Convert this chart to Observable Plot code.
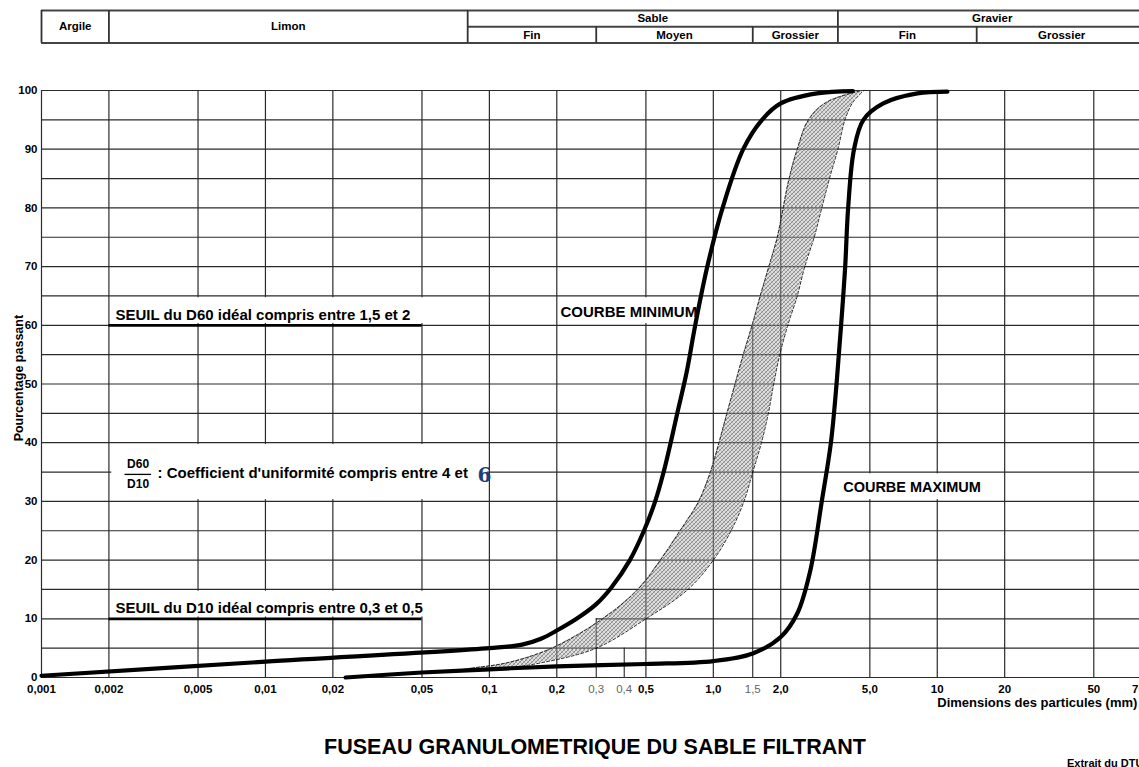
<!DOCTYPE html>
<html>
<head>
<meta charset="utf-8">
<script src="https://cdn.jsdelivr.net/npm/d3@7"></script>
<script src="https://cdn.jsdelivr.net/npm/@observablehq/plot@0.6"></script>
<style>
html, body { margin: 0; padding: 0; background: #fff; overflow: hidden; width: 1139px; height: 767px; }
#page { position: relative; width: 1139px; height: 767px; overflow: hidden; font-family: "Liberation Sans", Arial, Helvetica, sans-serif; }
#header { position: absolute; left: 0; top: 0; }
#chart { position: absolute; left: 0; top: 50px; }
#title { position: absolute; left: 0; width: 1190px; top: 736px; text-align: center; font-weight: bold; font-size: 21.5px; line-height: 22px; white-space: nowrap; }
#source { position: absolute; left: 1067px; top: 757px; font-weight: bold; font-size: 11px; white-space: nowrap; }
</style>
</head>
<body>
<div id="page">
  <div id="header"></div>
  <div id="chart"></div>
  <div id="title">FUSEAU GRANULOMETRIQUE DU SABLE FILTRANT</div>
  <div id="source">Extrait du DTU 64.1</div>
</div>
<script>
// ---------- DATA ----------
// Soil classes (header table), boundaries in mm
const classNames = ["Argile", "Limon", "Sable", "Gravier"];
const classBounds = [0.001, 0.002, 0.08, 3.6, 86];
const subNames = ["Fin", "Moyen", "Grossier", "Fin", "Grossier"];
const subBounds = [0.08, 0.3, 1.5, 3.6, 15, 86];

// Axis ticks
const xTickValues = [0.001, 0.002, 0.005, 0.01, 0.02, 0.05, 0.1, 0.2, 0.5, 1, 2, 5, 10, 20, 50];
const xTickLabels = ["0,001", "0,002", "0,005", "0,01", "0,02", "0,05", "0,1", "0,2", "0,5", "1,0", "2,0", "5,0", "10", "20", "50"];
const xMinorValues = [0.3, 0.4, 1.5];
const xMinorLabels = ["0,3", "0,4", "1,5"];
const xMinorTop = [10, 5, 60];
const xEdgeLabel = "70";
const xEdgeValue = 70;
const yTickValues = [0, 10, 20, 30, 40, 50, 60, 70, 80, 90, 100];
const yGridValues = [0, 5, 10, 15, 20, 25, 30, 35, 40, 45, 50, 55, 60, 65, 70, 75, 80, 85, 90, 95, 100];

// Courbe minimum (size mm, % passing)
const minSize = [0.001, 0.01, 0.1, 0.14, 0.17, 0.2, 0.245, 0.3, 0.35, 0.424, 0.49, 0.55, 0.6, 0.645, 0.69, 0.76, 0.83, 0.94, 1.1, 1.36, 1.65, 2.0, 2.9, 4.2];
const minPass = [0.3, 2.7, 5.0, 5.6, 6.6, 8.0, 10, 12.5, 15.3, 20, 25, 30, 35, 40, 45, 52, 60, 70, 80, 90, 95, 97.8, 99.5, 99.9];

// Courbe maximum
const maxSize = [0.0228, 0.05, 0.1, 0.2, 0.5, 1.0, 1.5, 2.0, 2.37, 2.71, 3.05, 3.35, 3.55, 3.72, 3.88, 4.0, 4.25, 4.68, 5.74, 8.15, 11.1];
const maxPass = [0, 0.85, 1.4, 1.9, 2.3, 2.8, 4.1, 6.9, 10.9, 18.2, 30, 40, 50, 60, 70, 80, 90, 95, 97.8, 99.5, 99.8];

// Fuseau (hatched band): % passing with left / right size limits
const bandPass = [1.0, 1.5, 2.5, 5, 10, 15, 20, 25, 30, 35, 40, 45, 50, 55, 60, 65, 70, 75, 80, 85, 90, 95, 98, 100];
const bandLow  = [0.068, 0.08, 0.12, 0.19, 0.32, 0.46, 0.58, 0.71, 0.86, 0.97, 1.06, 1.15, 1.25, 1.36, 1.49, 1.62, 1.77, 1.93, 2.05, 2.18, 2.37, 2.66, 3.2, 4.6];
const bandHigh = [0.072, 0.112, 0.17, 0.30, 0.50, 0.77, 1.0, 1.2, 1.37, 1.5, 1.64, 1.76, 1.86, 1.98, 2.15, 2.37, 2.56, 2.82, 3.05, 3.3, 3.6, 3.87, 4.2, 4.7];

// Thresholds (D60 and D10)
const thresholdPass = [60, 10];
const thresholdFrom = 0.002;
const thresholdTo = 0.05;

// ---------- BUILD ----------
const FONT = "'Liberation Sans', Arial, Helvetica, sans-serif";
const GRID = "#2b2b2b";
const X = {type: "log", domain: [0.001, 80], range: [41, 1139]};

const minCurve = minSize.map((d, i) => ({d, p: minPass[i]}));
const maxCurve = maxSize.map((d, i) => ({d, p: maxPass[i]}));
const band = bandPass.map((p, i) => ({p, lo: bandLow[i], hi: bandHigh[i]}));
const gm = (a, b) => Math.sqrt(a * b);

// Header table
const header = Plot.plot({
  width: 1139, height: 50, margin: 0,
  x: {...X, axis: null},
  y: {domain: [0, 1], range: [10, 42.5], axis: null},
  style: {fontFamily: FONT, overflow: "visible", background: "white"},
  marks: [
    Plot.ruleY([0, 1], {x1: classBounds[0], x2: classBounds[classBounds.length - 1], stroke: "#444", strokeWidth: 1.8}),
    Plot.ruleY([0.5], {x1: subBounds[0], x2: subBounds[subBounds.length - 1], stroke: "#444", strokeWidth: 1.8}),
    Plot.ruleX(classBounds.slice(0, -1), {y1: 0, y2: 1, stroke: "#333", strokeWidth: 1.8}),
    Plot.ruleX(subBounds.slice(1, -1).filter(v => !classBounds.includes(v)), {y1: 0.5, y2: 1, stroke: "#333", strokeWidth: 1.8}),
    Plot.text(classNames, {
      x: (d, i) => gm(classBounds[i], classBounds[i + 1]),
      y: (d, i) => i < 2 ? 0.5 : 0.25,
      text: d => d, fontWeight: "bold", fontSize: 11.5
    }),
    Plot.text(subNames, {
      x: (d, i) => gm(subBounds[i], subBounds[i + 1]),
      y: 0.75, text: d => d, fontWeight: "bold", fontSize: 11.5
    })
  ]
});
document.getElementById("header").append(header);

// Boxes behind annotation texts (interrupt the grid)
const boxes = [
  {x1: 0.00206, x2: 0.052, y1: 60.3, y2: 64.7},
  {x1: 0.00206, x2: 0.098, y1: 30.3, y2: 39.7},
  {x1: 0.00206, x2: 0.052, y1: 10.3, y2: 14.7},
  {x1: 0.206, x2: 0.82, y1: 60.3, y2: 64.7},
  {x1: 3.1, x2: 19.4, y1: 30.3, y2: 34.7}
];

const chart = Plot.plot({
  width: 1139, height: 670,
  marginLeft: 41, marginRight: 0, marginTop: 40, marginBottom: 43,
  x: {...X, axis: null},
  y: {domain: [0, 100], axis: null},
  style: {fontFamily: FONT, overflow: "visible", background: "white"},
  marks: [
    // grid
    Plot.ruleY(yGridValues.filter(v => v !== 10), {x1: 0.001, x2: 80, stroke: GRID, strokeWidth: 1.2}),
    Plot.ruleY([10], {x1: 0.001, x2: 0.002, stroke: GRID, strokeWidth: 1.2}),
    Plot.ruleY([10], {x1: 0.3, x2: 80, stroke: GRID, strokeWidth: 1.2}),
    Plot.ruleX(xTickValues, {y1: 0, y2: 100, stroke: GRID, strokeWidth: 1.2}),
    Plot.rect(boxes, {x1: "x1", x2: "x2", y1: "y1", y2: "y2", fill: "white"}),
    // thin helper lines 0.3 / 0.4 / 1.5
    Plot.ruleX(xMinorValues, {y1: 0, y2: (d, i) => xMinorTop[i], stroke: "#111", strokeWidth: 1}),
    // fuseau band
    Plot.areaX(band, {y: "p", x1: "lo", x2: "hi", curve: "catmull-rom", fill: "url(#hatch)"}),
    Plot.line(band, {x: "lo", y: "p", curve: "catmull-rom", stroke: "#111", strokeWidth: 0.9, strokeDasharray: "3,2"}),
    Plot.line(band, {x: "hi", y: "p", curve: "catmull-rom", stroke: "#111", strokeWidth: 0.9, strokeDasharray: "3,2"}),
    // D60 / D10 thresholds
    Plot.ruleY(thresholdPass, {x1: thresholdFrom, x2: thresholdTo, stroke: "#000", strokeWidth: 2.8}),
    // curves
    Plot.line(minCurve, {x: "d", y: "p", curve: "catmull-rom", stroke: "#000", strokeWidth: 4.2}),
    Plot.line(maxCurve, {x: "d", y: "p", curve: "catmull-rom", stroke: "#000", strokeWidth: 4.2}),
    // annotations
    Plot.text(["SEUIL du D60 idéal compris entre 1,5 et 2"], {x: 0.00214, y: 61.8, textAnchor: "start", fontWeight: "bold", fontSize: 15}),
    Plot.text(["SEUIL du D10 idéal compris entre 0,3 et 0,5"], {x: 0.00214, y: 11.8, textAnchor: "start", fontWeight: "bold", fontSize: 15}),
    Plot.text(["D60"], {x: 0.0027, y: 36.4, fontWeight: "bold", fontSize: 12}),
    Plot.text(["D10"], {x: 0.0027, y: 32.9, fontWeight: "bold", fontSize: 12}),
    Plot.ruleY([34.6], {x1: 0.00236, x2: 0.0031, stroke: "#000", strokeWidth: 1.3}),
    Plot.text([": Coefficient d'uniformité compris entre 4 et"], {x: 0.0033, y: 34.8, textAnchor: "start", fontWeight: "bold", fontSize: 15}),
    Plot.text(["6"], {x: 0.0885, y: 34.4, textAnchor: "start", fontFamily: "'DejaVu Serif', serif", fontWeight: "bold", fontSize: 20, fill: "#1c3f7a"}),
    Plot.text(["COURBE MINIMUM"], {x: 0.2077, y: 62.3, textAnchor: "start", fontWeight: "bold", fontSize: 15}),
    Plot.text(["COURBE MAXIMUM"], {x: 3.8, y: 32.4, textAnchor: "start", fontWeight: "bold", fontSize: 14.5}),
    // y axis labels
    Plot.text(yTickValues, {y: d => d, frameAnchor: "left", dx: -4, textAnchor: "end", text: d => String(d), fontWeight: "bold", fontSize: 11.5}),
    Plot.text(["Pourcentage passant"], {y: () => 51, frameAnchor: "left", dx: -23, textAnchor: "middle", rotate: -90, fontWeight: "bold", fontSize: 12.5}),
    // x axis labels
    Plot.text(xTickValues, {x: d => d, frameAnchor: "bottom", dy: 15, text: (d, i) => xTickLabels[i], fontWeight: "bold", fontSize: 11.5}),
    Plot.text(xMinorValues, {x: d => d, frameAnchor: "bottom", dy: 15, text: (d, i) => xMinorLabels[i], fill: "#666", fontSize: 11.5}),
    Plot.text([xEdgeValue], {x: d => d, frameAnchor: "bottom", dy: 15, dx: 12, text: () => xEdgeLabel, fontWeight: "bold", fontSize: 11.5}),
    Plot.text(["Dimensions des particules (mm)"], {x: 10, frameAnchor: "bottom", dy: 29, textAnchor: "start", fontWeight: "bold", fontSize: 13})
  ]
});

// hatch pattern for the fuseau
const defs = d3.select(chart).insert("defs", ":first-child");
const pat = defs.append("pattern").attr("id", "hatch").attr("patternUnits", "userSpaceOnUse").attr("width", 4).attr("height", 4);
pat.append("rect").attr("width", 4).attr("height", 4).attr("fill", "rgba(150,150,150,0.3)");
pat.append("path").attr("d", "M-1,1 l2,-2 M0,4 l4,-4 M3,5 l2,-2").attr("stroke", "#777").attr("stroke-width", 0.8);
pat.append("path").attr("d", "M-1,3 l2,2 M0,0 l4,4 M3,-1 l2,2").attr("stroke", "#9a9a9a").attr("stroke-width", 0.6);

document.getElementById("chart").append(chart);
</script>
</body>
</html>
